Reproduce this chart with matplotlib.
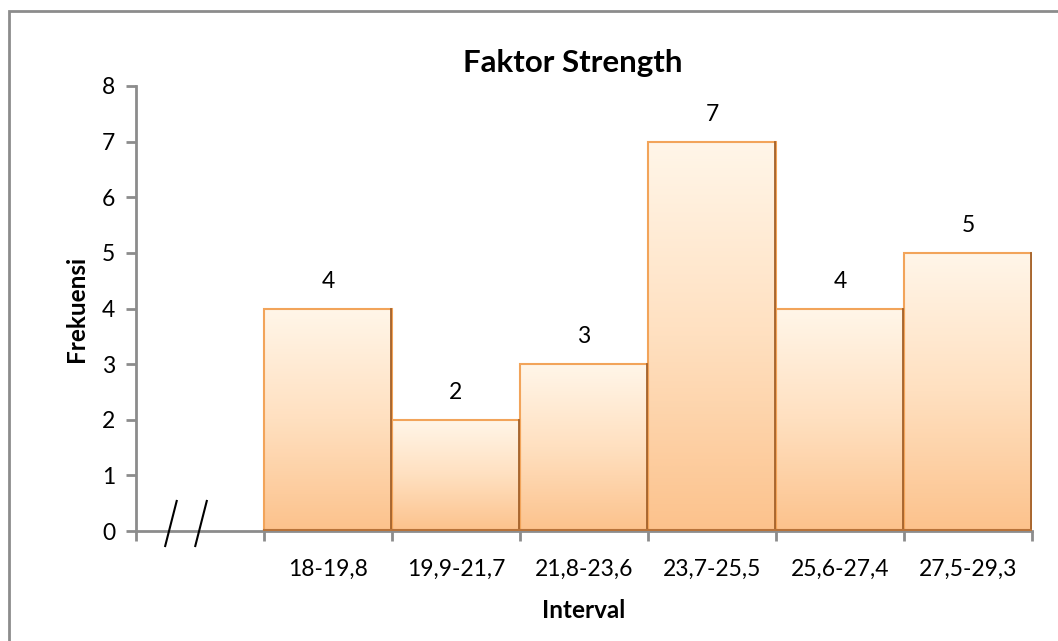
import numpy as np
import matplotlib.pyplot as plt
from matplotlib.colors import LinearSegmentedColormap
from matplotlib.patches import Rectangle

plt.rcParams['font.family'] = ['Lato', 'DejaVu Sans']

# data: first slot is left empty (axis break)
intervals = ['', '18-19,8', '19,9-21,7', '21,8-23,6', '23,7-25,5', '25,6-27,4', '27,5-29,3']
frekuensi = [0, 4, 2, 3, 7, 4, 5]

fig = plt.figure(figsize=(10.58, 6.41), dpi=100)
ax = fig.add_axes([136/1058, 1 - 531/641, (1032 - 136)/1058, (531 - 86)/641])

# outer chart border (only top and left visible)
fig.patches.append(Rectangle((9/1058, -0.1), 1.2, 1 - 11/641 + 0.1, transform=fig.transFigure,
                             fill=False, edgecolor='#8c8c8c', linewidth=2))

x = np.arange(len(intervals))
bars = ax.bar(x[1:], frekuensi[1:], width=1.0, color='none', edgecolor='#F2A45A',
              linewidth=1.5, zorder=3)

# gradient fill, light cream at the top to orange at the bottom
cmap = LinearSegmentedColormap.from_list('bar', ['#FCC28C', '#FFE0C0', '#FFF6E9'])
grad = np.linspace(0, 1, 256).reshape(-1, 1)
for b, v in zip(bars, frekuensi[1:]):
    bx, bw = b.get_x(), b.get_width()
    im = ax.imshow(grad, cmap=cmap, origin='lower', aspect='auto',
                   extent=[bx, bx + bw, 0, v], zorder=2)
    im.set_clip_path(b)
    # darker right edge (shadow)
    ax.plot([bx + bw - 0.01, bx + bw - 0.01], [0, v], color='#A3612A', lw=1.3, zorder=4)
    ax.plot([bx, bx + bw], [0.01, 0.01], color='#B8733A', lw=1.5, zorder=4)
    ax.text(bx + bw/2, v + 0.3, str(v), ha='center', va='bottom', fontsize=16.5, zorder=5)

ax.set_xlim(-0.5, len(intervals) - 0.5)
ax.set_ylim(0, 8)
ax.set_yticks(range(0, 9))
ax.set_xticks(x)
ax.set_xticklabels(intervals)
ax.set_xticks(np.arange(-0.5, len(intervals)), minor=True)

for s in ['top', 'right']:
    ax.spines[s].set_visible(False)
for s in ['left', 'bottom']:
    ax.spines[s].set_color('#8c8c8c')
    ax.spines[s].set_linewidth(2)

ax.tick_params(axis='y', length=7, width=2, color='#8c8c8c', labelsize=16.5, pad=8)
ax.tick_params(axis='x', which='major', length=0, labelsize=16.5, pad=20)
ax.tick_params(axis='x', which='minor', length=7, width=2, color='#8c8c8c')

ax.set_title('Faktor Strength', fontsize=22.5, fontweight='bold', pad=10, x=0.488)
ax.set_xlabel('Interval', fontsize=17.5, fontweight='bold', labelpad=14)
ax.set_ylabel('Frekuensi', fontsize=17.5, fontweight='bold', labelpad=10)

# axis break marks
for bx0 in [-0.227, 0.008]:
    ax.plot([bx0 + 0.045, bx0 - 0.045], [0.54, -0.27], color='black', lw=1.5,
            clip_on=False, zorder=6)

fig.savefig('out.png', dpi=100)
